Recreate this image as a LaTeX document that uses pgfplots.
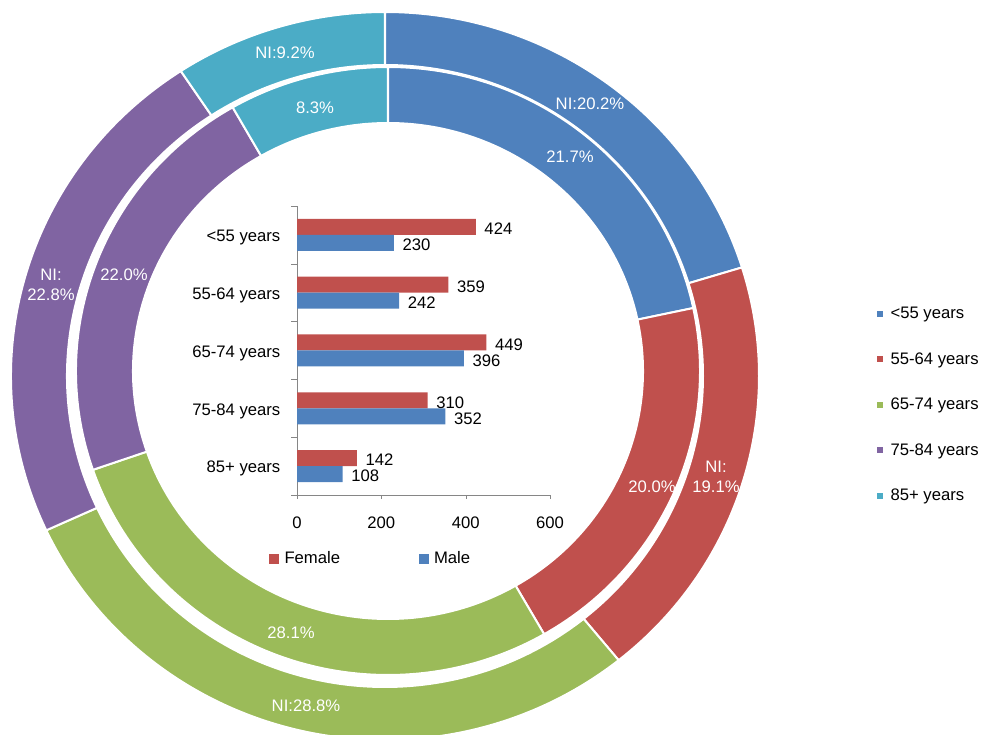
\documentclass[border=0pt]{standalone}
\usepackage{fontspec}
\setmainfont{Liberation Sans}
\usepackage{pgfplots}
\pgfplotsset{compat=1.18}
\usetikzlibrary{calc}

\definecolor{cA}{HTML}{4F81BD}
\definecolor{cB}{HTML}{C0504D}
\definecolor{cC}{HTML}{9BBB59}
\definecolor{cD}{HTML}{8064A2}
\definecolor{cE}{HTML}{4BACC6}
\definecolor{axgray}{HTML}{868686}

\pgfplotsset{
  sqlegend/.style={legend image code/.code={\fill[##1, draw=none] (0pt,-3.75pt) rectangle (7.5pt,3.75pt);}},
}

% one ring: cx, cy (axis units), outer x/y radius, inner x/y radius, list start/share/colour
\newcommand\ring[7]{%
  \foreach \s/\p/\col in {#7} {
    \pgfmathsetmacro\aS{90-3.6*\s/1.001}
    \pgfmathsetmacro\aE{90-3.6*(\s+\p)/1.001}
    \edef\tmp{\noexpand\fill[fill=\col, draw=white, line width=1.5pt]
      ($(axis cs:#1,#2)+(\aS:#3 and #4)$)
      arc[start angle=\aS, end angle=\aE, x radius=#3, y radius=#4]
      -- ($(axis cs:#1,#2)+(\aE:#5 and #6)$)
      arc[start angle=\aE, end angle=\aS, x radius=#5, y radius=#6]
      -- cycle;}
    \tmp
  }
}

\begin{document}
\begin{tikzpicture}[font=\fontsize{12.5}{15}\selectfont]
\path[use as bounding box] (0,0) rectangle (737.25pt,551.25pt);

\begin{axis}[
    at={(0,0)}, anchor=south west,
    scale only axis,
    width=737.25pt, height=551.25pt,
    xmin=0, xmax=983, ymin=0, ymax=735,
    y dir=reverse,
    hide axis,
    legend cell align=left,
    legend image code/.code={\fill[#1, draw=none] (0pt,-2.25pt) rectangle (4.5pt,2.25pt);},
    legend style={at={(axis cs:877,405)}, anchor=west, draw=none, fill=none,
        inner sep=0pt, /tikz/row sep=19.9pt, /tikz/column sep=3.5pt,
        font=\fontsize{12.5}{15}\selectfont},
  ]
  % outer ring: NI shares
  \ring{385}{376}{280.5pt}{273pt}{238.5pt}{233.25pt}%
    {0/20.2/cA, 20.2/19.1/cB, 39.3/28.8/cC, 68.1/22.8/cD, 90.9/9.2/cE}
  % inner ring
  \ring{388}{371}{234pt}{228pt}{191.25pt}{186pt}%
    {0/21.7/cA, 21.7/20.0/cB, 41.7/28.1/cC, 69.8/22.0/cD, 91.8/8.3/cE}

  \addlegendimage{fill=cA}\addlegendentry{<55 years}
  \addlegendimage{fill=cB}\addlegendentry{55-64 years}
  \addlegendimage{fill=cC}\addlegendentry{65-74 years}
  \addlegendimage{fill=cD}\addlegendentry{75-84 years}
  \addlegendimage{fill=cE}\addlegendentry{85+ years}

  \begin{scope}[every node/.style={text=white, align=center, font=\fontsize{12.5}{15}\selectfont}]
  \node at (axis cs:590,104) {NI:20.2\%};
  \node at (axis cs:716,477) {NI:\\19.1\%};
  \node at (axis cs:306,706) {NI:28.8\%};
  \node at (axis cs:51,285) {NI:\\22.8\%};
  \node at (axis cs:285,53) {NI:9.2\%};
  \node at (axis cs:570,157) {21.7\%};
  \node at (axis cs:652,487) {20.0\%};
  \node at (axis cs:291,633) {28.1\%};
  \node at (axis cs:124,275) {22.0\%};
  \node at (axis cs:315,108) {8.3\%};
  \end{scope}

  \coordinate (barSW) at (axis cs:297,495);
\end{axis}

\begin{axis}[
    at={(barSW)}, anchor=south west,
    scale only axis,
    width=189.75pt, height=216.75pt,
    xbar, bar width=12pt,
    xmin=0, xmax=600, ymin=-0.5, ymax=4.5,
    axis lines=left,
    axis line style={-, draw=axgray},
    tick align=outside,
    tick style={draw=axgray},
    xtick={0,200,400,600},
    major tick length=3pt,
    ytick={0,1,2,3,4},
    yticklabels={85+ years,75-84 years,65-74 years,55-64 years,<55 years},
    major y tick style={draw=none},
    minor ytick={-0.5,0.5,1.5,2.5,3.5,4.5},
    minor tick length=4.5pt,
    minor y tick style={draw=axgray},
    xticklabel style={yshift=-9.5pt},
    yticklabel style={xshift=-6pt, yshift=-2pt},
    /pgf/number format/assume math mode=true,
    nodes near coords,
    every node near coord/.append style={xshift=3pt, yshift=-1.5pt, text=black},
    legend columns=2,
    legend style={at={(-0.111,-0.221)}, anchor=west, draw=none, fill=none,
        inner sep=0pt, /tikz/column sep=2pt,
        /tikz/every even column/.append style={column sep=57pt}},
    clip=false,
  ]
  \addplot[fill=cB, draw=none, bar shift=6pt, sqlegend]
    coordinates {(424,4) (359,3) (449,2) (310,1) (142,0)};
  \addlegendentry{Female}
  \addplot[fill=cA, draw=none, bar shift=-6pt, sqlegend]
    coordinates {(230,4) (242,3) (396,2) (352,1) (108,0)};
  \addlegendentry{Male}
\end{axis}
\end{tikzpicture}
\end{document}
